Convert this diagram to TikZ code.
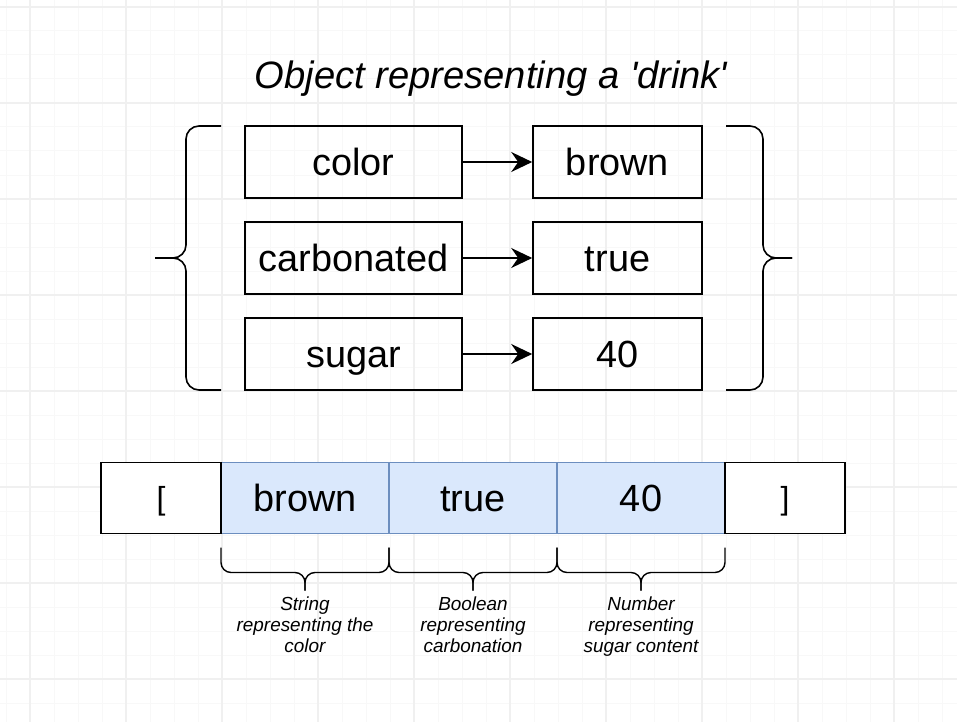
\documentclass[tikz,border=0pt]{standalone}
\usepackage{fontspec}
\setmainfont{Liberation Sans}[Ligatures=TeXOff]
\usetikzlibrary{positioning,arrows.meta}
\definecolor{cellfill}{HTML}{DAE8FC}
\definecolor{cellline}{HTML}{6C8EBF}
\definecolor{gridminor}{HTML}{F8F8F8}
\definecolor{gridmajor}{HTML}{F0F0F0}

\begin{document}
\begin{tikzpicture}[x=1bp,y=-1bp]
\useasboundingbox (0,0) rectangle (957,722);
% Background grid
\foreach \g in {6,30,...,957} \draw[gridminor,line width=1bp] (\g,0) -- (\g,722);
\foreach \g in {7,31,...,722} \draw[gridminor,line width=1bp] (0,\g) -- (957,\g);
\foreach \g in {30,126,...,957} \draw[gridmajor,line width=1.2bp] (\g,0) -- (\g,722);
\foreach \g in {7,103,...,722} \draw[gridmajor,line width=1.2bp] (0,\g) -- (957,\g);

% Draw Object
   \begin{scope}[ node distance=96bp,on grid,line width=1.6bp,
                   >={Stealth[length=21bp,width=20bp,inset=7bp]},
                   keybox/.style={rectangle,draw,inner sep=0pt,minimum width=217bp,minimum height=72bp,
                                  text height=27bp,text depth=0pt,font=\fontsize{38}{40}\selectfont},
                   valbox/.style={keybox,minimum width=169bp} ]
     \node (title) at (491,89) [anchor=base,font=\fontsize{38.3}{40}\selectfont\itshape] {Object representing a 'drink'};
     \node [keybox]  (k1)  at (353.5,162)    {color};
     \node [keybox]  (k2)  [below=of k1]     {carbonated};
     \node [keybox]  (k3)  [below=of k2]     {sugar};
     \node [valbox]  (v1)  [right=264bp of k1] {brown};
     \node [valbox]  (v2)  [right=264bp of k2] {true};
     \node [valbox]  (v3)  [right=264bp of k3] {40};
     \draw (k1) edge [->] (v1);
     \draw (k2) edge [->] (v2);
     \draw (k3) edge [->] (v3);
     % braces
     \draw [rounded corners=13bp] (221,126) -| (186,258) -- (155,258);
     \draw [rounded corners=13bp] (221,390) -| (186,258) -- (155,258);
     \draw [rounded corners=13bp] (726,126) -| (763,258) -- (792,258);
     \draw [rounded corners=13bp] (726,390) -| (763,258) -- (792,258);
   \end{scope}

% Draw Array
   \begin{scope}[ node distance=0pt,line width=1.6bp,
                   cell/.style={rectangle,draw=cellline,fill=cellfill,inner sep=0pt,outer sep=0pt,
                                minimum width=168bp,minimum height=71bp,
                                text height=27bp,text depth=0pt,font=\fontsize{38}{40}\selectfont},
                   endcell/.style={cell,draw=black,fill=white,minimum width=120bp,
                                   text height=23bp,font=\fontsize{32}{34}\selectfont},
                   note/.style={inner sep=0pt,align=center,font=\fontsize{19}{21.5}\selectfont\itshape} ]
     \node [cell]     (c1)    at (305,498)    {brown};
     \node [endcell]  (open)  [left=of c1]    {[};
     \node [cell]     (c2)    [right=of c1]   {true};
     \node [cell]     (c3)    [right=of c2]   {40};
     \node [endcell]  (close) [right=of c3]   {]};
     \draw [line width=1.4bp,rounded corners=10bp] ([yshift=-14bp]c1.south west) |- ([yshift=-39bp]c1.south) -- ([yshift=-57bp]c1.south);
     \draw [line width=1.4bp,rounded corners=10bp] ([yshift=-14bp]c1.south east) |- ([yshift=-39bp]c1.south) -- ([yshift=-57bp]c1.south);
     \draw [line width=1.4bp,rounded corners=10bp] ([yshift=-14bp]c2.south west) |- ([yshift=-39bp]c2.south) -- ([yshift=-57bp]c2.south);
     \draw [line width=1.4bp,rounded corners=10bp] ([yshift=-14bp]c2.south east) |- ([yshift=-39bp]c2.south) -- ([yshift=-57bp]c2.south);
     \draw [line width=1.4bp,rounded corners=10bp] ([yshift=-14bp]c3.south west) |- ([yshift=-39bp]c3.south) -- ([yshift=-57bp]c3.south);
     \draw [line width=1.4bp,rounded corners=10bp] ([yshift=-14bp]c3.south east) |- ([yshift=-39bp]c3.south) -- ([yshift=-57bp]c3.south);
     \node [note]  (n1)  [below=62bp of c1.south] {String\\representing the\\color};
     \node [note]  (n2)  [below=62bp of c2.south] {Boolean\\representing\\carbonation};
     \node [note]  (n3)  [below=62bp of c3.south] {Number\\representing\\sugar content};
   \end{scope}
\end{tikzpicture}
\end{document}
